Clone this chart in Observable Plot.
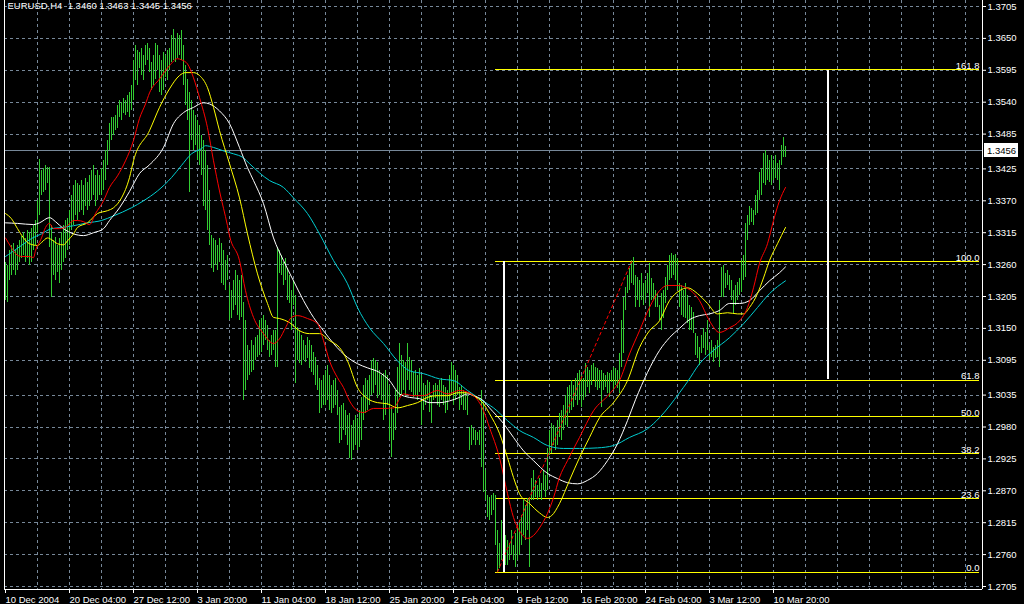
<!DOCTYPE html>
<html>
<head>
<meta charset="utf-8">
<script src="https://cdn.jsdelivr.net/npm/d3@7"></script>
<script src="https://cdn.jsdelivr.net/npm/@observablehq/plot@0.6"></script>
<style>
html, body { margin: 0; padding: 0; background: #000; overflow: hidden; }
#chart svg { display: block; }
</style>
</head>
<body>
<div id="chart"></div>
<script>
// ---------------- DATA ----------------
const symbolTitle = "EURUSD,H4  1.3460 1.3463 1.3445 1.3456";
const lastPrice = 1.3456;

// H4 bars (index 0 = 10 Dec 2004 00:00)
const high = [
1.3264,1.3258,1.3284,1.3293,1.3296,1.3284,1.3293,1.3301,1.3308,1.3315,1.3305,1.3318,1.3315,1.3322,1.3327,1.3336,
1.3370,1.3441,1.3422,1.3425,1.3431,1.3428,1.3428,1.3327,1.3301,1.3306,1.3293,1.3305,1.3315,1.3327,1.3336,1.3339,
1.3353,1.3379,1.3396,1.3405,1.3400,1.3396,1.3405,1.3396,1.3408,1.3401,1.3413,1.3422,1.3431,1.3413,1.3422,1.3413,
1.3425,1.3439,1.3456,1.3474,1.3503,1.3514,1.3513,1.3517,1.3534,1.3543,1.3540,1.3546,1.3543,1.3551,1.3557,1.3568,
1.3612,1.3637,1.3629,1.3626,1.3632,1.3620,1.3637,1.3642,1.3632,1.3608,1.3620,1.3642,1.3637,1.3620,1.3612,1.3626,
1.3620,1.3629,1.3632,1.3655,1.3665,1.3649,1.3658,1.3655,1.3663,1.3637,1.3603,1.3580,1.3557,1.3543,1.3525,1.3517,
1.3508,1.3500,1.3482,1.3474,1.3456,1.3431,1.3387,1.3310,1.3305,1.3301,1.3293,1.3305,1.3296,1.3284,1.3267,1.3275,
1.3224,1.3215,1.3232,1.3250,1.3241,1.3232,1.3241,1.3195,1.3163,1.3120,1.3112,1.3129,1.3120,1.3134,1.3137,1.3163,
1.3167,1.3172,1.3163,1.3155,1.3129,1.3137,1.3146,1.3146,1.3290,1.3284,1.3275,1.3264,1.3270,1.3253,1.3241,1.3215,
1.3232,1.3206,1.3151,1.3146,1.3137,1.3129,1.3120,1.3134,1.3129,1.3120,1.3108,1.3099,1.3086,1.3063,1.3060,1.3069,
1.3077,1.3086,1.3069,1.3051,1.3060,1.3063,1.3043,1.3013,1.3017,1.3020,1.3008,1.3000,1.3003,1.2982,1.2991,1.3000,
1.2995,1.3008,1.3031,1.3051,1.3063,1.3060,1.3069,1.3094,1.3098,1.3094,1.3091,1.3077,1.3069,1.3072,1.3077,1.3069,
1.3051,1.3013,1.3003,1.3043,1.3082,1.3124,1.3103,1.3094,1.3091,1.3124,1.3099,1.3094,1.3074,1.3077,1.3069,1.3081,
1.3069,1.3055,1.3051,1.3060,1.3057,1.3034,1.3051,1.3055,1.3051,1.3060,1.3063,1.3051,1.3048,1.3043,1.3069,1.3091,
1.3086,1.3077,1.3069,1.3048,1.3051,1.3043,1.3039,1.3034,1.2979,1.2982,1.2977,1.2974,1.2971,1.2974,1.3043,1.3025,
1.2905,1.2862,1.2858,1.2862,1.2865,1.2862,1.2801,1.2779,1.2819,1.2810,1.2793,1.2784,1.2779,1.2801,1.2775,1.2796,
1.2810,1.2819,1.2827,1.2853,1.2844,1.2856,1.2858,1.2891,1.2905,1.2887,1.2879,1.2891,1.2882,1.2905,1.2896,1.2943,
1.2974,1.2986,1.2982,1.2979,1.2991,1.3003,1.3008,1.3017,1.3034,1.3048,1.3051,1.3060,1.3051,1.3063,1.3072,1.3077,
1.3069,1.3063,1.3089,1.3082,1.3077,1.3086,1.3089,1.3082,1.3081,1.3077,1.3077,1.3072,1.3069,1.3074,1.3072,1.3077,
1.3082,1.3081,1.3077,1.3106,1.3163,1.3203,1.3220,1.3241,1.3253,1.3267,1.3272,1.3241,1.3237,1.3232,1.3244,1.3227,
1.3232,1.3244,1.3262,1.3236,1.3227,1.3215,1.3210,1.3189,1.3210,1.3215,1.3237,1.3258,1.3275,1.3279,1.3275,1.3277,
1.3270,1.3227,1.3224,1.3215,1.3227,1.3206,1.3189,1.3186,1.3177,1.3141,1.3136,1.3117,1.3137,1.3150,1.3143,1.3163,
1.3120,1.3129,1.3117,1.3120,1.3129,1.3198,1.3255,1.3258,1.3244,1.3250,1.3241,1.3232,1.3215,1.3224,1.3229,1.3236,
1.3267,1.3275,1.3331,1.3344,1.3361,1.3356,1.3353,1.3379,1.3387,1.3418,1.3425,1.3451,1.3456,1.3448,1.3439,1.3448,
1.3439,1.3448,1.3434,1.3439,1.3465,1.3479,1.3463
];
const low = [
1.3198,1.3195,1.3232,1.3241,1.3250,1.3241,1.3250,1.3264,1.3270,1.3275,1.3264,1.3270,1.3258,1.3264,1.3284,1.3293,
1.3313,1.3344,1.3379,1.3384,1.3387,1.3400,1.3290,1.3203,1.3241,1.3232,1.3246,1.3227,1.3250,1.3264,1.3270,1.3284,
1.3293,1.3318,1.3327,1.3344,1.3336,1.3350,1.3353,1.3344,1.3361,1.3353,1.3361,1.3370,1.3379,1.3361,1.3370,1.3379,
1.3379,1.3387,1.3405,1.3431,1.3456,1.3474,1.3482,1.3491,1.3494,1.3514,1.3508,1.3520,1.3517,1.3522,1.3514,1.3525,
1.3543,1.3577,1.3568,1.3598,1.3586,1.3577,1.3603,1.3612,1.3591,1.3560,1.3568,1.3580,1.3594,1.3557,1.3551,1.3560,
1.3582,1.3577,1.3594,1.3608,1.3612,1.3608,1.3615,1.3620,1.3612,1.3568,1.3534,1.3508,1.3384,1.3474,1.3456,1.3465,
1.3439,1.3431,1.3413,1.3361,1.3353,1.3318,1.3293,1.3253,1.3246,1.3258,1.3250,1.3264,1.3227,1.3224,1.3215,1.3232,
1.3163,1.3167,1.3181,1.3189,1.3172,1.3163,1.3168,1.3025,1.3043,1.3060,1.3069,1.3074,1.3077,1.3094,1.3099,1.3103,
1.3108,1.3120,1.3129,1.3112,1.3099,1.3103,1.3112,1.3082,1.3082,1.3244,1.3241,1.3224,1.3232,1.3198,1.3193,1.3146,
1.3189,1.3055,1.3094,1.3089,1.3086,1.3094,1.3091,1.3098,1.3081,1.3074,1.3069,1.3051,1.3043,1.3003,1.3012,1.3017,
1.3017,1.3025,1.3008,1.3003,1.3012,1.3017,1.3000,1.2951,1.2957,1.2974,1.2965,1.2948,1.2926,1.2922,1.2939,1.2948,
1.2939,1.2945,1.2957,1.2991,1.3003,1.3008,1.3017,1.3034,1.3038,1.3051,1.3029,1.3034,1.3025,1.2991,1.3000,1.3017,
1.2957,1.2927,1.2957,1.2974,1.3003,1.3031,1.3034,1.3043,1.3031,1.3060,1.3043,1.3039,1.3031,1.3034,1.3025,1.3039,
1.2982,1.3008,1.3017,1.3025,1.3005,1.2986,1.3025,1.3029,1.3017,1.3013,1.3025,1.3017,1.3003,1.3008,1.3025,1.3034,
1.3017,1.3025,1.3034,1.3008,1.3017,1.3008,1.3008,1.3000,1.2939,1.2948,1.2957,1.2948,1.2957,1.2948,1.2910,1.2867,
1.2853,1.2824,1.2819,1.2827,1.2836,1.2775,1.2730,1.2736,1.2750,1.2758,1.2741,1.2741,1.2750,1.2758,1.2750,1.2738,
1.2750,1.2758,1.2775,1.2793,1.2784,1.2801,1.2738,1.2853,1.2853,1.2858,1.2853,1.2858,1.2853,1.2870,1.2858,1.2870,
1.2931,1.2934,1.2948,1.2939,1.2948,1.2962,1.2957,1.2974,1.2982,1.2979,1.3003,1.3008,1.3013,1.3025,1.3017,1.3025,
1.3013,1.3025,1.3031,1.3048,1.3038,1.3051,1.3060,1.3048,1.3043,1.3046,1.3013,1.3043,1.3048,1.3038,1.3031,1.3057,
1.3043,1.3051,1.3046,1.3038,1.3082,1.3106,1.3181,1.3210,1.3215,1.3227,1.3224,1.3186,1.3198,1.3186,1.3198,1.3189,
1.3198,1.3210,1.3168,1.3198,1.3198,1.3186,1.3186,1.3163,1.3146,1.3167,1.3193,1.3215,1.3232,1.3236,1.3241,1.3232,
1.3215,1.3186,1.3172,1.3168,1.3167,1.3158,1.3146,1.3146,1.3141,1.3103,1.3098,1.3086,1.3106,1.3115,1.3103,1.3112,
1.3094,1.3099,1.3091,1.3098,1.3099,1.3082,1.3203,1.3203,1.3218,1.3224,1.3215,1.3198,1.3175,1.3189,1.3198,1.3206,
1.3212,1.3232,1.3237,1.3301,1.3327,1.3332,1.3327,1.3344,1.3348,1.3370,1.3379,1.3400,1.3396,1.3405,1.3401,1.3396,
1.3405,1.3408,1.3405,1.3387,1.3431,1.3444,1.3445
];

// Moving averages: [bar index, price]
const maRed = [[0,1.3306],[3,1.3289],[5,1.3279],[8,1.3274],[12,1.3274],[14,1.3272],[15,1.3284],[18,1.3306],[20,1.3324],[22,1.3331],[24,1.3322],[27,1.3322],[31,1.3327],[34,1.3336],[36,1.3336],[39,1.3334],[42,1.3329],[45,1.3348],[49,1.3370],[52,1.3393],[56,1.3413],[60,1.3439],[64,1.3474],[67,1.3512],[70,1.3537],[72,1.3556],[77,1.3580],[82,1.3603],[86,1.3615],[88,1.3613],[91,1.3606],[94,1.3582],[97,1.3548],[101,1.3496],[104,1.3439],[107,1.3387],[111,1.3327],[112,1.3310],[117,1.3267],[120,1.3215],[124,1.3169],[129,1.3141],[134,1.3124],[137,1.3132],[140,1.3151],[143,1.3169],[146,1.3172],[151,1.3167],[156,1.3158],[159,1.3129],[162,1.3094],[166,1.3065],[169,1.3048],[172,1.3025],[176,1.3008],[179,1.3005],[184,1.3012],[189,1.3012],[194,1.3013],[199,1.3037],[204,1.3034],[209,1.3034],[216,1.3043],[221,1.3037],[227,1.3043],[234,1.3034],[239,1.3008],[242,1.2979],[247,1.2927],[251,1.2865],[254,1.2824],[257,1.2801],[261,1.2788],[264,1.2793],[267,1.2806],[271,1.2831],[274,1.2858],[277,1.2893],[281,1.2922],[287,1.2962],[294,1.3008],[302,1.3037],[307,1.3060],[312,1.3106],[317,1.3146],[322,1.3186],[327,1.3215],[331,1.3224],[336,1.3224],[341,1.3219],[347,1.3198],[352,1.3163],[357,1.3143],[362,1.3151],[367,1.3163],[371,1.3186],[374,1.3220],[377,1.3262],[381,1.3296],[384,1.3336],[387,1.3370],[390,1.3393]];
const maYellow = [[0,1.3348],[3,1.3339],[6,1.3322],[9,1.3306],[12,1.3296],[16,1.3293],[18,1.3298],[21,1.3306],[23,1.3303],[26,1.3296],[29,1.3294],[31,1.3301],[34,1.3313],[36,1.3324],[41,1.3332],[46,1.3348],[51,1.3353],[54,1.3358],[58,1.3375],[62,1.3410],[64,1.3439],[72,1.3491],[77,1.3531],[82,1.3563],[87,1.3586],[90,1.3591],[94,1.3591],[97,1.3586],[101,1.3565],[104,1.3531],[107,1.3491],[112,1.3434],[117,1.3375],[121,1.3313],[126,1.3244],[131,1.3193],[134,1.3169],[137,1.3167],[142,1.3160],[147,1.3146],[152,1.3141],[157,1.3141],[162,1.3129],[167,1.3117],[171,1.3094],[176,1.3048],[181,1.3029],[186,1.3022],[191,1.3020],[196,1.3013],[201,1.3017],[206,1.3022],[211,1.3031],[216,1.3034],[221,1.3034],[226,1.3039],[231,1.3039],[234,1.3034],[239,1.3020],[242,1.3003],[247,1.2969],[251,1.2927],[254,1.2893],[257,1.2865],[262,1.2848],[267,1.2832],[271,1.2824],[273,1.2827],[277,1.2848],[282,1.2888],[287,1.2927],[292,1.2962],[297,1.2996],[304,1.3022],[311,1.3060],[317,1.3117],[322,1.3146],[327,1.3163],[332,1.3198],[337,1.3215],[341,1.3220],[346,1.3210],[351,1.3193],[356,1.3175],[361,1.3177],[366,1.3175],[369,1.3175],[372,1.3186],[376,1.3210],[379,1.3237],[382,1.3267],[386,1.3296],[390,1.3324]];
const maWhite = [[0,1.3332],[6,1.3331],[14,1.3329],[17,1.3332],[22,1.3341],[25,1.3334],[29,1.3322],[34,1.3313],[39,1.3310],[44,1.3315],[49,1.3322],[52,1.3336],[57,1.3358],[62,1.3386],[67,1.3417],[72,1.3432],[79,1.3462],[84,1.3503],[89,1.3522],[94,1.3531],[99,1.3539],[102,1.3537],[107,1.3525],[112,1.3503],[117,1.3462],[121,1.3427],[124,1.3405],[129,1.3365],[134,1.3306],[139,1.3267],[144,1.3232],[149,1.3198],[154,1.3169],[159,1.3146],[164,1.3124],[171,1.3100],[176,1.3089],[181,1.3082],[187,1.3074],[192,1.3060],[197,1.3037],[202,1.3031],[207,1.3029],[212,1.3022],[217,1.3022],[222,1.3025],[227,1.3031],[231,1.3037],[234,1.3034],[239,1.3025],[242,1.3013],[249,1.2986],[254,1.2962],[259,1.2939],[264,1.2922],[271,1.2900],[276,1.2891],[281,1.2884],[286,1.2882],[291,1.2888],[296,1.2900],[301,1.2922],[306,1.2951],[311,1.2991],[315,1.3027],[321,1.3074],[327,1.3112],[332,1.3134],[337,1.3150],[342,1.3165],[347,1.3172],[352,1.3175],[357,1.3181],[362,1.3193],[367,1.3193],[372,1.3198],[377,1.3215],[382,1.3232],[387,1.3246],[390,1.3256]];
const maCyan = [[0,1.3274],[3,1.3281],[8,1.3293],[13,1.3305],[18,1.3313],[23,1.3322],[28,1.3324],[34,1.3327],[41,1.3332],[48,1.3336],[54,1.3344],[63,1.3358],[69,1.3370],[76,1.3387],[83,1.3410],[88,1.3431],[93,1.3451],[98,1.3460],[100,1.3465],[104,1.3462],[109,1.3456],[114,1.3451],[119,1.3444],[122,1.3434],[132,1.3405],[139,1.3393],[144,1.3375],[151,1.3348],[157,1.3313],[164,1.3267],[171,1.3227],[176,1.3186],[182,1.3151],[189,1.3124],[196,1.3094],[202,1.3077],[209,1.3072],[217,1.3063],[224,1.3060],[231,1.3043],[236,1.3031],[241,1.3020],[244,1.3013],[251,1.2991],[257,1.2974],[264,1.2962],[271,1.2948],[279,1.2943],[287,1.2943],[296,1.2944],[304,1.2948],[312,1.2962],[321,1.2977],[327,1.2996],[337,1.3039],[341,1.3058],[347,1.3089],[354,1.3112],[362,1.3134],[369,1.3158],[376,1.3186],[382,1.3210],[390,1.3232]];

// Fibonacci retracement
const fibLabels = ["0.0","23.6","38.2","50.0","61.8","100.0","161.8"];
const fibPrices = [1.2730,1.2856,1.2934,1.2998,1.3061,1.3265,1.3596];
const fibStartBar = 245;
const fibTrend = [[246,1.2730],[313,1.3265]];           // dotted anchor line
const rangeMarks = [[249,1.3265,1.2730],[411,1.3595,1.3062]]; // white vertical bars

// Axis ticks
const dateTickBars = [0,32,64,96,128,160,192,224,256,288,320,352,384];
const dateTickLabels = ["10 Dec 2004","20 Dec 04:00","27 Dec 12:00","3 Jan 20:00","11 Jan 04:00","18 Jan 12:00","25 Jan 20:00","2 Feb 04:00","9 Feb 12:00","16 Feb 20:00","24 Feb 04:00","3 Mar 12:00","10 Mar 20:00"];
const gridBars = [16,32,48,64,80,96,112,128,144,160,176,192,208,224,240,256,272,288,304,320,336,352,368,384,400,416,432,448,464,480];
const priceTicks = [1.2705,1.2760,1.2815,1.2870,1.2925,1.2980,1.3035,1.3095,1.3150,1.3205,1.3260,1.3315,1.3370,1.3425,1.3485,1.3540,1.3595,1.3650,1.3705];

// ---------------- CHART ----------------
const W = 1024, H = 604;
const mL = 4, mR = 42, mT = 0, mB = 15;
const pxPerPrice = 5800;
const xDomain = [-0.5, (W - mR - mL) / 2 - 0.5];
const yDomain = [1.2705 - 3 / pxPerPrice, 1.3705 + 6 / pxPerPrice];

const bars = high.map((h, i) => ({i, high: h, low: low[i]}));
const toObj = a => a.map(([i, p]) => ({i, p}));
const fibs = fibPrices.map((p, k) => ({p, label: fibLabels[k]}));
const labelMap = new Map(dateTickBars.map((b, k) => [b, dateTickLabels[k]]));

const GRID = "#778899";
const FONT = "'Liberation Sans', Arial, sans-serif";
const crisp = {shapeRendering: "crispEdges"};

const chart = Plot.plot({
  width: W, height: H,
  marginLeft: mL, marginRight: mR, marginTop: mT, marginBottom: mB,
  style: {background: "#000", color: "#fff", fontFamily: FONT, fontSize: "9.5px"},
  x: {type: "linear", domain: xDomain},
  y: {type: "linear", domain: yDomain},
  marks: [
    Plot.ruleX(gridBars, {stroke: GRID, strokeDasharray: "3,3", ...crisp}),
    Plot.ruleY(priceTicks, {stroke: GRID, strokeDasharray: "3,3", ...crisp}),
    Plot.ruleY(fibs, {y: "p", x1: fibStartBar, x2: xDomain[1] - 1.5, stroke: "#ffff00", ...crisp}),
    Plot.ruleY([lastPrice], {stroke: GRID, ...crisp}),
    Plot.ruleX(bars, {x: "i", y1: "low", y2: "high", stroke: "#32cd32", ...crisp}),
    Plot.line(toObj(maCyan), {x: "i", y: "p", stroke: "#00ced1", strokeWidth: 1, curve: "monotone-x"}),
    Plot.line(toObj(maWhite), {x: "i", y: "p", stroke: "#ffffff", strokeWidth: 1, curve: "monotone-x"}),
    Plot.line(toObj(maYellow), {x: "i", y: "p", stroke: "#ffff00", strokeWidth: 1, curve: "monotone-x"}),
    Plot.line(toObj(maRed), {x: "i", y: "p", stroke: "#ff0000", strokeWidth: 1, curve: "monotone-x"}),
    Plot.line(toObj(fibTrend), {x: "i", y: "p", stroke: "#ff0000", strokeWidth: 1, strokeDasharray: "3,3"}),
    Plot.ruleX(rangeMarks, {x: d => d[0], y1: d => d[1], y2: d => d[2], stroke: "#ffffff", strokeWidth: 2, ...crisp}),
    Plot.text(fibs, {y: "p", text: "label", frameAnchor: "right", textAnchor: "end", lineAnchor: "bottom", dx: -3, dy: -1, fill: "#fff"}),
    Plot.ruleX([xDomain[0], xDomain[1]], {stroke: "#fff", ...crisp}),
    Plot.ruleY([yDomain[0]], {stroke: "#fff", ...crisp}),
    Plot.axisX(dateTickBars, {anchor: "bottom", tickSize: 4, tickPadding: 3, textAnchor: "start", tickFormat: d => labelMap.get(d), stroke: "#fff", fill: "#fff", label: null}),
    Plot.axisY(priceTicks, {anchor: "right", tickSize: 3, tickPadding: 2, tickFormat: d3.format(".4f"), stroke: "#fff", fill: "#fff", label: null}),
    Plot.text([symbolTitle], {frameAnchor: "top-left", dx: 3, dy: 2, fill: "#fff"})
  ]
});

// current price label box on the right scale
const yPix = chart.scale("y").apply(lastPrice);
const xR = W - mR;
const g = d3.select(chart).append("g").attr("text-anchor", "start");
g.append("rect").attr("x", xR + 2).attr("y", Math.round(yPix) - 7).attr("width", 34).attr("height", 14).attr("fill", "#fff");
g.append("text").attr("x", xR + 5).attr("y", yPix).attr("dy", "0.35em").attr("fill", "#000")
  .attr("text-anchor", "start")
  .style("font-family", FONT).style("font-size", "9.5px").text(d3.format(".4f")(lastPrice));

document.getElementById("chart").appendChild(chart);
</script>
</body>
</html>
